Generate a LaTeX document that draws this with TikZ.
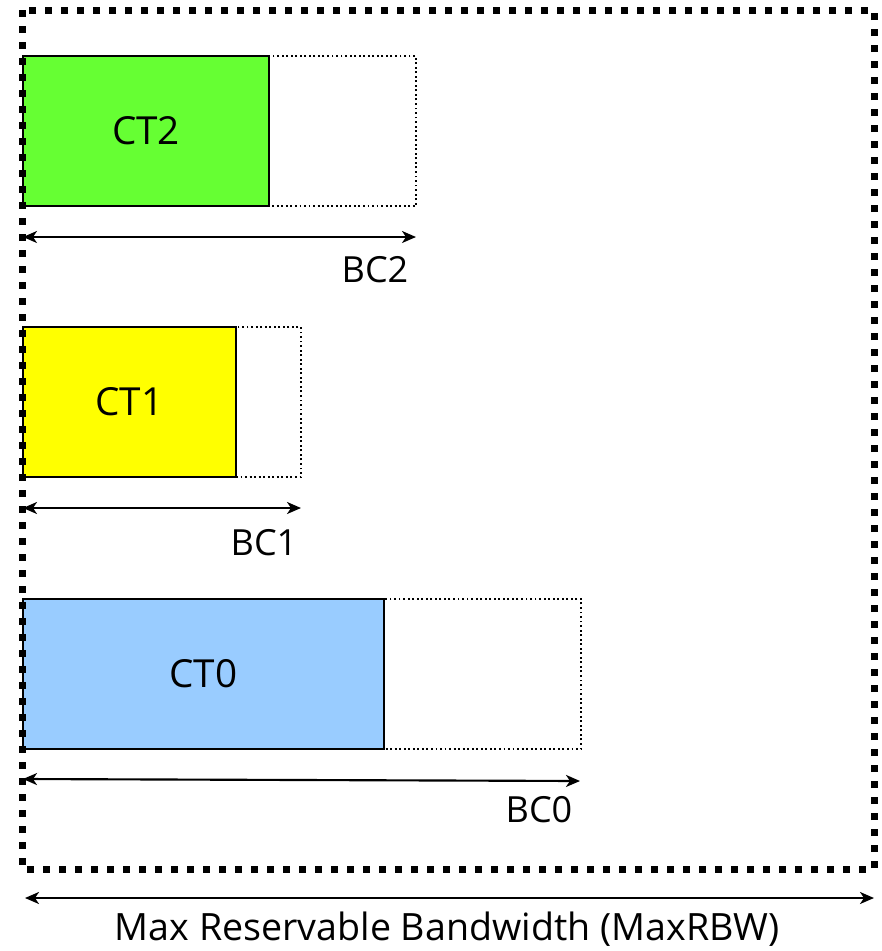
\documentclass[tikz,border=0pt]{standalone}
\usepackage{fontspec}
\setmainfont{Open Sans}
\usetikzlibrary{arrows.meta}
\definecolor{ctgreen}{HTML}{66FF33}
\definecolor{ctyellow}{HTML}{FFFF00}
\definecolor{ctblue}{HTML}{99CCFF}
\begin{document}
\begin{tikzpicture}[x=0.75pt,y=-0.75pt,
  ctbox/.style={draw=black, line width=1.9pt, inner sep=0pt, outer sep=0pt, anchor=north west,
    font=\fontsize{29}{33}\selectfont, minimum height=112.5pt},
  bcbox/.style={draw=black, dotted, line width=1.4pt, inner sep=0pt, outer sep=0pt, anchor=north west,
    minimum height=112.5pt},
  dim/.style={{Stealth[length=10.5pt,width=9pt,inset=3pt]}-{Stealth[length=10.5pt,width=9pt,inset=3pt]}, line width=1.6pt},
  lbl/.style={font=\fontsize{27}{31}\selectfont, inner sep=0pt},
  frame/.style={draw=black, line width=5.25pt, dash pattern=on 5.25pt off 6.75pt},
]
\useasboundingbox (0,0) rectangle (882,951);
% extension (dotted) boxes
\node[bcbox, minimum width=294.75pt] (bc2box) at (23,56) {};
\node[bcbox, minimum width=208.5pt] (bc1box) at (23,327) {};
\node[bcbox, minimum width=418.5pt] (bc0box) at (23,599) {};
% class type boxes
\node[ctbox, fill=ctgreen, minimum width=184.5pt] (ct2) at (23,56) {CT2};
\node[ctbox, fill=ctyellow, minimum width=159.75pt] (ct1) at (23,327) {CT1};
\node[ctbox, fill=ctblue, minimum width=270.75pt] (ct0) at (23,599) {CT0};
% dimension arrows
\coordinate (bc2l) at (23,237); \coordinate (bc2r) at (416,237);
\coordinate (bc1l) at (23,508); \coordinate (bc1r) at (301,508);
\coordinate (bc0l) at (23,779); \coordinate (bc0r) at (580,781);
\coordinate (maxl) at (25,898); \coordinate (maxr) at (874,898);
\draw[dim] (bc2l) -- (bc2r);
\draw[dim] (bc1l) -- (bc1r);
\draw[dim] (bc0l) -- (bc0r);
\draw[dim] (maxl) -- (maxr);
\node[lbl] (bc2lbl) at (375,270) {BC2};
\node[lbl] (bc1lbl) at (264,543) {BC1};
\node[lbl] (bc0lbl) at (539,810) {BC0};
\node[lbl, font=\fontsize{28.2}{33}\selectfont] (maxlbl) at (447,929) {Max Reservable Bandwidth (MaxRBW)};
% outer frame
\draw[frame] (22,10) rectangle (874,869);
\end{tikzpicture}
\end{document}
